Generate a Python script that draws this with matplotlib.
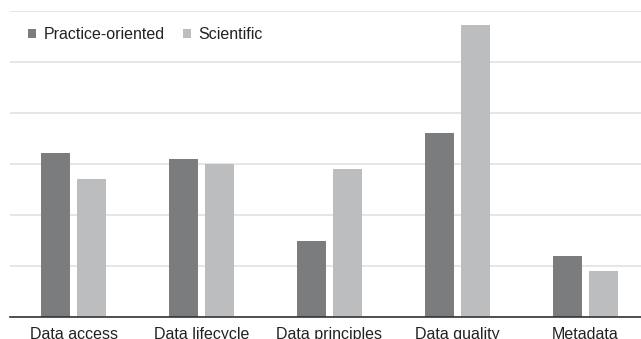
import matplotlib.pyplot as plt
import numpy as np

categories = ["Data access", "Data lifecycle", "Data principles", "Data quality", "Metadata"]
practice = [3.22, 3.10, 1.49, 3.61, 1.20]
scientific = [2.71, 3.00, 2.90, 5.73, 0.90]

plt.rcParams["font.family"] = ["Liberation Sans", "DejaVu Sans"]

W, H = 641, 339
fig = plt.figure(figsize=(W / 100, H / 100), dpi=100)
# plot area in pixels: x from 9.5 to right edge, y from 11 to 317
ax = fig.add_axes([9.5 / W, (H - 317) / H, (W - 9.5) / W, 306 / H])

x = np.arange(len(categories))
bw = 0.227
off = 0.1406
ax.bar(x - off, practice, bw, color="#7b7c7e", label="Practice-oriented", zorder=3)
ax.bar(x + off, scientific, bw, color="#bcbdbf", label="Scientific", zorder=3)

ax.set_xlim(-0.5, -0.5 + (W - 9.5) / 128)
ax.set_ylim(0, 6)
ax.set_yticks(np.arange(0, 7, 1))
ax.yaxis.grid(True, color="#e2e2e2", linewidth=1.2, zorder=0)
ax.tick_params(axis="y", left=False, labelleft=False)
ax.tick_params(axis="x", bottom=False, labelsize=11.5, pad=3.5, colors="#222222")
ax.set_xticks(x)
ax.set_xticklabels(categories)
for s in ["top", "right", "left"]:
    ax.spines[s].set_visible(False)
ax.spines["bottom"].set_color("#333333")
ax.spines["bottom"].set_linewidth(1.2)
ax.spines["bottom"].set_zorder(4)

leg = ax.legend(loc="upper left", bbox_to_anchor=(28 / W, 1 - 27 / H),
                bbox_transform=fig.transFigure, ncol=2, frameon=False,
                fontsize=11.5, handlelength=0.5, handleheight=0.5, handletextpad=0.5,
                columnspacing=1.1, borderaxespad=0, borderpad=0)
for t in leg.get_texts():
    t.set_color("#222222")

fig.savefig("out.png", dpi=100)
